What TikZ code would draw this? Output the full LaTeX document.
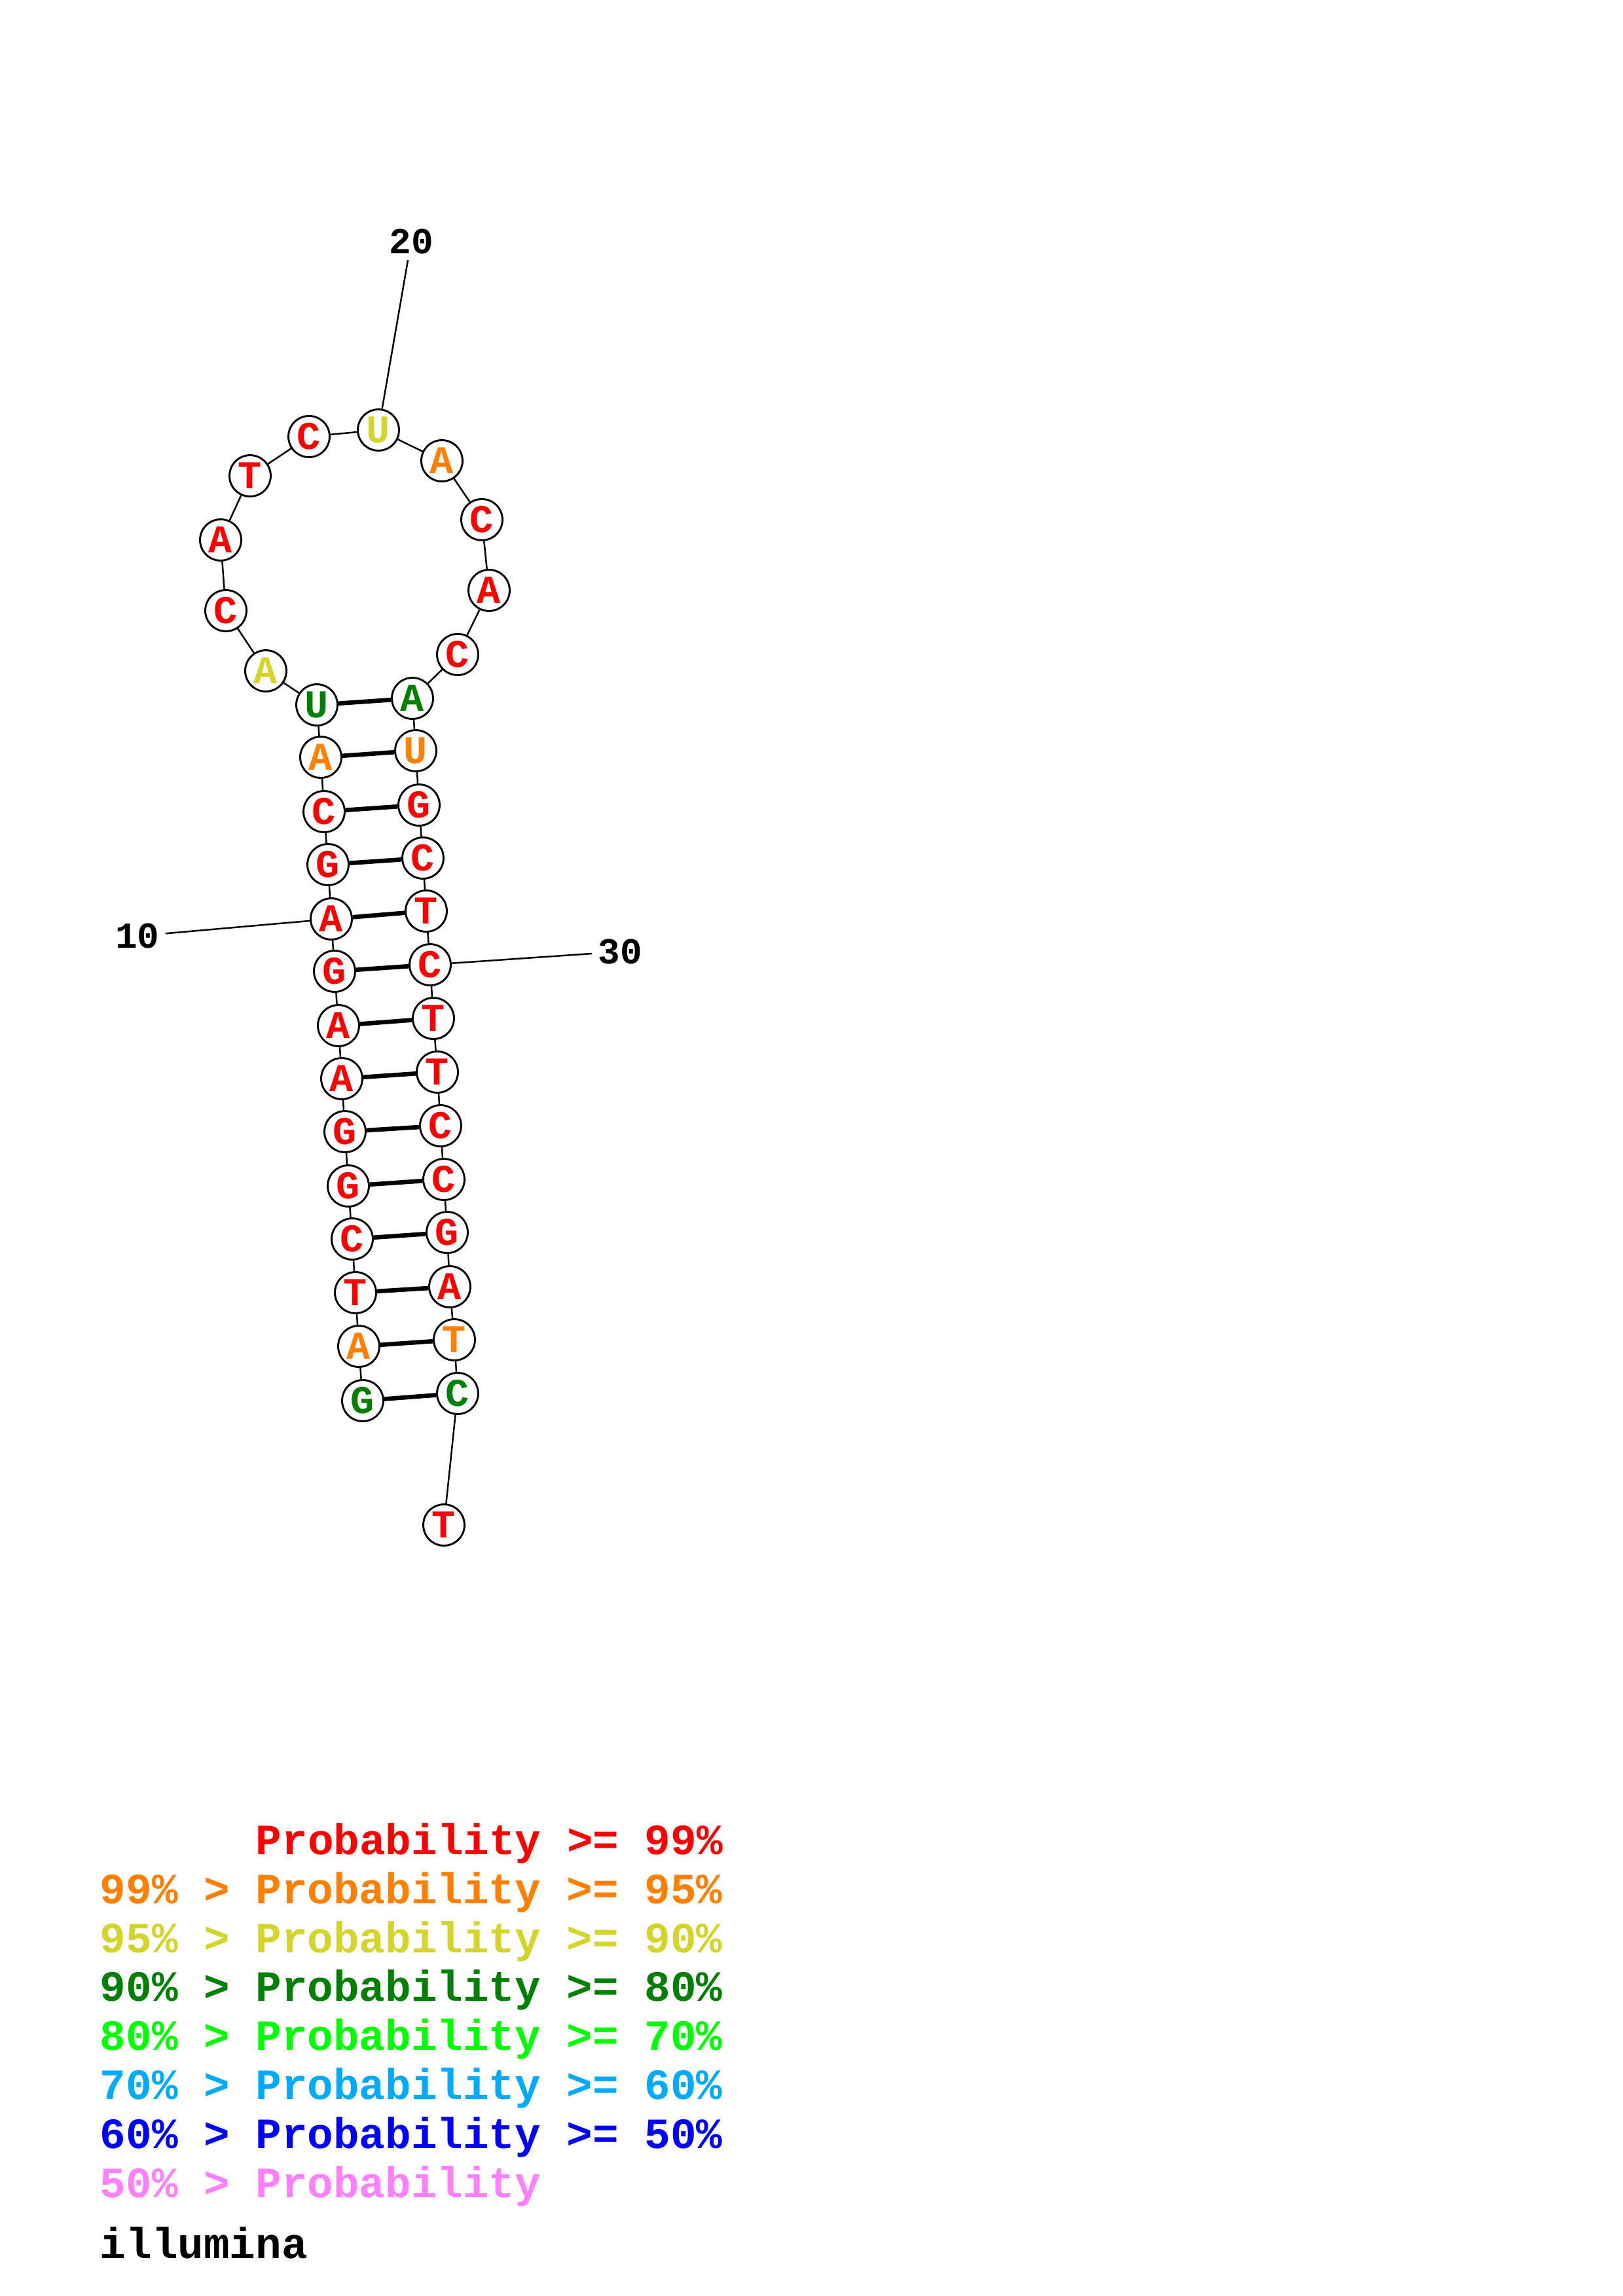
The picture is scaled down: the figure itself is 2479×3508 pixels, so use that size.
\documentclass[tikz,border=0pt]{standalone}
\usepackage{fontspec}
\newfontfamily\rnamono{Liberation Mono}
\definecolor{probred}{RGB}{255,0,0}
\definecolor{probor}{RGB}{255,128,0}
\definecolor{probye}{RGB}{212,212,42}
\definecolor{probdg}{RGB}{0,128,0}
\definecolor{problg}{RGB}{0,255,0}
\definecolor{probsky}{RGB}{0,170,255}
\definecolor{probbl}{RGB}{0,0,255}
\definecolor{probpk}{RGB}{255,128,255}

\begin{document}
\begin{tikzpicture}[x=0.0846667mm, y=-0.0846667mm,
  nuc/.style={circle, draw, line width=0.7pt, fill=white, minimum size=5.33mm, inner sep=0pt,
    font=\rnamono\bfseries\fontsize{14.5}{15}\selectfont},
  bb/.style={line width=0.6pt},
  pairline/.style={line width=1.6pt},
  numlabel/.style={inner sep=2pt, font=\rnamono\bfseries\fontsize{13.5}{14}\selectfont},
  legend/.style={anchor=base west, inner sep=0pt, font=\rnamono\bfseries\fontsize{15.9}{18}\selectfont}]
  \useasboundingbox (0,0) rectangle (2479,3508);
  % bases, 5' end at the foot of the left strand
  \foreach \i/\px/\py/\nb/\col in {
      1/554/2140/G/probdg, 2/548/2057/A/probor, 3/543/1975/T/probred, 4/538/1893/C/probred,
      5/532/1812/G/probred, 6/527/1729/G/probred, 7/522/1648/A/probred, 8/517/1567/A/probred,
      9/511/1484/G/probred, 10/506/1404/A/probred, 11/501/1321/G/probred, 12/495/1240/C/probred,
      13/490/1157/A/probor, 14/484/1077/U/probdg,
      15/406/1025/A/probye, 16/345/933/C/probred, 17/337/825/A/probred, 18/382/727/T/probred,
      19/472/667/C/probred, 20/578/657/U/probye, 21/675/704/A/probor, 22/736/794/C/probred,
      23/747/902/A/probred, 24/699/1000/C/probred,
      25/630/1067/A/probdg, 26/635/1147/U/probor, 27/640/1230/G/probred, 28/646/1311/C/probred,
      29/651/1392/T/probred, 30/657/1474/C/probred, 31/662/1556/T/probred, 32/668/1638/T/probred,
      33/673/1720/C/probred, 34/678/1802/C/probred, 35/683/1883/G/probred, 36/687/1966/A/probred,
      37/694/2047/T/probor, 38/699/2129/C/probdg, 39/678/2330/T/probred}
    \node[nuc, text=\col] (n\i) at (\px,\py) {\nb};
  % backbone
  \foreach \i [count=\j from 2] in {1,...,38}
    \draw[bb] (n\i) -- (n\j);
  % base pairs of the stem
  \foreach \i in {1,...,14} {
    \pgfmathtruncatemacro\k{39-\i}
    \draw[pairline] (n\i) -- (n\k);
  }
  % position marks
  \node[numlabel] (l10) at (210,1430) {10};
  \node[numlabel] (l20) at (628,369) {20};
  \node[numlabel] (l30) at (947,1454) {30};
  \draw[bb] (n10) -- (l10);
  \draw[bb] (n20) -- (l20);
  \draw[bb] (n30) -- (l30);
  % colour key
  \node[legend, text=probred] (k99) at (390,2833) {Probability >= 99\%};
  \node[legend, text=probor]  (k95) at (152,2908) {99\% > Probability >= 95\%};
  \node[legend, text=probye]  (k90) at (152,2983) {95\% > Probability >= 90\%};
  \node[legend, text=probdg]  (k80) at (152,3057) {90\% > Probability >= 80\%};
  \node[legend, text=problg]  (k70) at (152,3132) {80\% > Probability >= 70\%};
  \node[legend, text=probsky] (k60) at (152,3207) {70\% > Probability >= 60\%};
  \node[legend, text=probbl]  (k50) at (152,3282) {60\% > Probability >= 50\%};
  \node[legend, text=probpk]  (k00) at (152,3357) {50\% > Probability};
  \node[legend] (src) at (152,3450) {illumina};
\end{tikzpicture}
\end{document}
